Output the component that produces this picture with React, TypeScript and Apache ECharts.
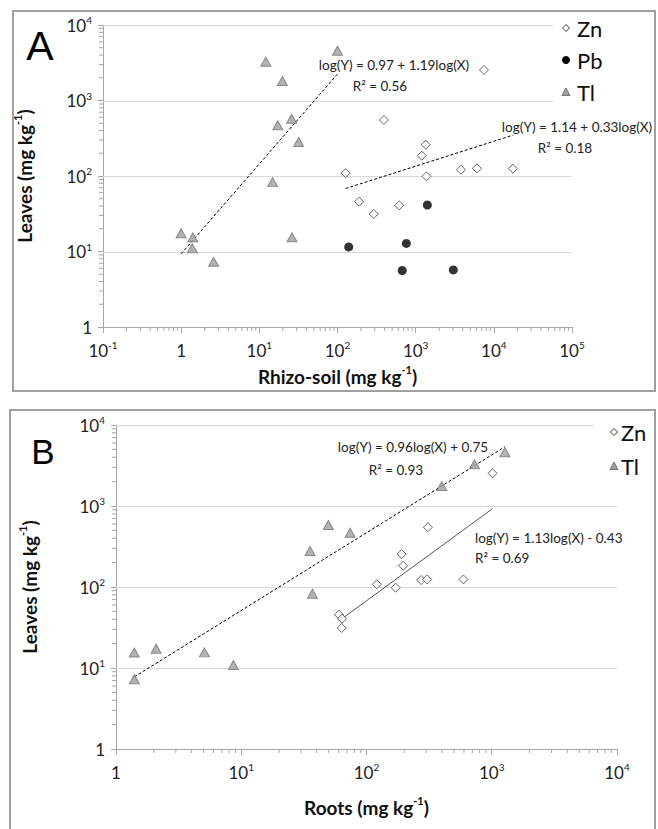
import React, { useEffect, useRef } from 'react';
import * as echarts from 'echarts';

// ---------- Panel A: rhizo-soil vs leaves (mg/kg) ----------
const aZnSoil = [127, 189, 291, 392, 617, 1197, 1346, 1374, 3800, 6080, 7480, 17550];
const aZnLeaves = [109, 45.7, 31.4, 552, 40.9, 186, 260, 99, 121, 126, 2535, 125];
const aPbSoil = [139, 673, 760, 1410, 3030];
const aPbLeaves = [11.5, 5.6, 12.8, 41.3, 5.7];
const aTlSoil = [1.0, 1.39, 1.41, 2.6, 12.1, 14.8, 17.2, 19.7, 25.9, 26.2, 31.8, 100];
const aTlLeaves = [17.4, 11.0, 15.4, 7.3, 3270, 83, 469, 1810, 574, 15.4, 282, 4570];

// ---------- Panel B: roots vs leaves (mg/kg) ----------
const bZnRoots = [60.3, 63.4, 63.8, 121, 171, 191, 196, 273, 305, 309, 594, 1014];
const bZnLeaves = [45.5, 31.2, 40.6, 108, 98, 255, 183, 122, 124, 546, 124, 2535];
const bTlRoots = [1.4, 1.4, 2.09, 5.08, 8.65, 35.4, 37.0, 49.6, 74, 399, 728, 1273];
const bTlLeaves = [15.5, 7.25, 17.3, 15.6, 10.9, 278, 82.6, 582, 468, 1766, 3274, 4600];

// printed regressions: log(Y) = intercept + slope * log(X)
const aTlFit = [0.97, 1.19];
const aZnFit = [1.14, 0.33];
const bTlFit = [0.75, 0.96];
const bZnFit = [-0.43, 1.13];

const aTlEq = ['log(Y) = 0.97 + 1.19log(X)', 'R² = 0.56'];
const aZnEq = ['log(Y) = 1.14 + 0.33log(X)', 'R² = 0.18'];
const bTlEq = ['log(Y) = 0.96log(X) + 0.75', 'R² = 0.93'];
const bZnEq = ['log(Y) = 1.13log(X) - 0.43', 'R² = 0.69'];

// axis ranges (decade exponents)
const aXExp = [-1, 5];
const aYExp = [0, 4];
const bXExp = [0, 4];
const bYExp = [0, 4];

const legendA = ['Zn', 'Pb', 'Tl'];
const legendB = ['Zn', 'Tl'];

const FONT = 'Lato, "Open Sans", sans-serif';
const AXIS_COLOR = '#a6a6a6';
const GRID_COLOR = '#d9d9d9';

// legend boxes [x, y, w, h] (layout)
const LEGEND_BOX_A = [553, 13, 100, 94];
const LEGEND_BOX_B = [594, 416, 60, 64];

const pairs = (xs: number[], ys: number[]) => xs.map((x, i) => [x, ys[i]]);

const fitLine = (xs: number[], fit: number[]) => {
  const lo = Math.min(...xs);
  const hi = Math.max(...xs);
  return [lo, hi].map((x) => [x, Math.pow(10, fit[0] + fit[1] * Math.log10(x))]);
};

const minorTicks = (exp: number[]) => {
  const out: number[] = [];
  for (let k = exp[0]; k < exp[1]; k++) {
    for (let m = 2; m <= 9; m++) out.push(m * Math.pow(10, k));
  }
  return out;
};

const decades = (exp: number[]) => {
  const out: number[] = [];
  for (let k = exp[0]; k <= exp[1]; k++) out.push(Math.pow(10, k));
  return out;
};

const supLabel = (v: number) => {
  const e = Math.round(Math.log10(v));
  return e === 0 ? '1' : '10{s|' + e + '}';
};

const labelStyle = (margin: number) => ({
  formatter: supLabel,
  fontFamily: FONT,
  fontSize: 17,
  lineHeight: 20,
  color: '#222',
  margin,
  rich: {
    s: { fontFamily: FONT, fontSize: 10, color: '#222', verticalAlign: 'top', lineHeight: 10 },
  },
});

const nameStyle = {
  fontFamily: FONT,
  fontSize: 19,
  fontWeight: 'bold',
  color: '#111',
  lineHeight: 24,
  rich: {
    s: { fontFamily: FONT, fontSize: 11, fontWeight: 'bold', color: '#111', verticalAlign: 'top', lineHeight: 11 },
  },
};

const makeAxis = (gridIndex: number, exp: number[], isX: boolean, name: string, nameGap: number) => ({
  type: 'log',
  logBase: 10,
  gridIndex,
  min: Math.pow(10, exp[0]),
  max: Math.pow(10, exp[1]),
  name,
  nameLocation: 'middle',
  nameGap,
  nameTextStyle: nameStyle,
  axisLine: { show: true, lineStyle: { color: AXIS_COLOR, width: 1 } },
  axisTick: { show: true, length: isX ? 6 : 5, lineStyle: { color: AXIS_COLOR } },
  minorTick: { show: false },
  splitLine: { show: false },
  axisLabel: labelStyle(isX ? 13 : 11),
});

const tickSeries = (gridIndex: number, values: number[], isX: boolean, anchor: number) => ({
  type: 'custom',
  name: '_ticks' + gridIndex + (isX ? 'x' : 'y'),
  xAxisIndex: gridIndex,
  yAxisIndex: gridIndex,
  silent: true,
  clip: false,
  z: 3,
  data: values.map((v) => (isX ? [v, anchor] : [anchor, v])),
  renderItem: (_p: any, api: any) => {
    const p = api.coord([api.value(0), api.value(1)]);
    const shape = isX
      ? { x1: p[0], y1: p[1], x2: p[0], y2: p[1] + 4 }
      : { x1: p[0] - 4, y1: p[1], x2: p[0], y2: p[1] };
    return { type: 'line', shape, style: { stroke: AXIS_COLOR, lineWidth: 1 } };
  },
});

// horizontal grid lines at each decade, stopped at the legend box where it overlaps
const gridLineSeries = (gridIndex: number, xExp: number[], yExp: number[], box: number[]) => ({
  type: 'custom',
  name: '_grid' + gridIndex,
  xAxisIndex: gridIndex,
  yAxisIndex: gridIndex,
  silent: true,
  clip: false,
  z: 1,
  data: decades(yExp).slice(1).map((v) => [Math.pow(10, xExp[0]), v, Math.pow(10, xExp[1])]),
  renderItem: (_p: any, api: any) => {
    const p0 = api.coord([api.value(0), api.value(1)]);
    const p1 = api.coord([api.value(2), api.value(1)]);
    const inBox = p0[1] >= box[1] && p0[1] <= box[1] + box[3];
    const xEnd = inBox ? Math.min(p1[0], box[0]) : p1[0];
    const y = Math.round(p0[1]) + 0.5;
    return {
      type: 'line',
      shape: { x1: p0[0], y1: y, x2: xEnd, y2: y },
      style: { stroke: GRID_COLOR, lineWidth: 1 },
    };
  },
});

const znStyle = { color: '#ffffff', borderColor: '#3c3c3c', borderWidth: 1 };
const tlStyle = { color: '#a0a0a0', borderColor: '#747474', borderWidth: 1 };
const pbStyle = { color: '#000000', borderColor: '#000000', borderWidth: 0 };

const symbolOf: Record<string, string> = { Zn: 'diamond', Pb: 'circle', Tl: 'triangle' };
const styleOf: Record<string, any> = { Zn: znStyle, Pb: pbStyle, Tl: tlStyle };

const scatter = (name: string, gi: number, data: number[][], size: any) => ({
  type: 'scatter',
  name,
  xAxisIndex: gi,
  yAxisIndex: gi,
  data,
  symbol: symbolOf[name],
  symbolSize: size,
  itemStyle: styleOf[name],
  z: 5,
});

const trend = (name: string, gi: number, data: number[][], dashed: boolean, color: string) => ({
  type: 'line',
  name,
  xAxisIndex: gi,
  yAxisIndex: gi,
  data,
  showSymbol: false,
  symbol: 'none',
  silent: true,
  z: 4,
  lineStyle: { color, width: 1, type: dashed ? [3, 2] : 'solid' },
});

const eqText = (lines: string[], x: number, y1: number, y2: number, align: string, x2?: number) => [
  {
    type: 'text',
    x,
    y: y1,
    silent: true,
    style: { text: lines[0], fontFamily: FONT, fontSize: 13.5, fill: '#222', align, verticalAlign: 'middle' },
  },
  {
    type: 'text',
    x: x2 != null ? x2 : x,
    y: y2,
    silent: true,
    style: { text: lines[1], fontFamily: FONT, fontSize: 13.5, fill: '#222', align, verticalAlign: 'middle' },
  },
];

// legend drawn as graphic: marker and label for each entry
const legendMarker = (name: string, cx: number, cy: number) => {
  const st = styleOf[name];
  const style = { fill: st.color, stroke: st.borderWidth ? st.borderColor : 'none', lineWidth: st.borderWidth };
  if (name === 'Pb') return { type: 'circle', silent: true, z: 6, shape: { cx, cy, r: 4 }, style };
  if (name === 'Zn')
    return {
      type: 'polygon', silent: true, z: 6,
      shape: { points: [[cx, cy - 3.5], [cx + 3.5, cy], [cx, cy + 3.5], [cx - 3.5, cy]] },
      style,
    };
  return {
    type: 'polygon', silent: true, z: 6,
    shape: { points: [[cx, cy - 4], [cx + 4, cy + 3.5], [cx - 4, cy + 3.5]] },
    style,
  };
};

const legendGraphic = (names: string[], markerX: number, textX: number, y0: number, step: number) =>
  names.flatMap((n, i) => [
    legendMarker(n, markerX, y0 + i * step),
    {
      type: 'text', silent: true, z: 6, x: textX, y: y0 + i * step,
      style: { text: n, fontFamily: FONT, fontSize: 22, fill: '#111', align: 'left', verticalAlign: 'middle' },
    },
  ]);

export default function App() {
  const ref = useRef<HTMLDivElement>(null);

  useEffect(() => {
    if (!ref.current) return;
    const chart = echarts.init(ref.current, undefined, { renderer: 'svg' });

    chart.setOption({
      animation: false,
      grid: [
        { left: 103, top: 25, width: 469, height: 302 },
        { left: 116, top: 425, width: 501, height: 324 },
      ],
      xAxis: [
        makeAxis(0, aXExp, true, 'Rhizo-soil (mg kg{s|-1})', 37),
        makeAxis(1, bXExp, true, 'Roots (mg kg{s|-1})', 46),
      ],
      yAxis: [
        makeAxis(0, aYExp, false, 'Leaves (mg kg{s|-1})', 67),
        makeAxis(1, bYExp, false, 'Leaves (mg kg{s|-1})', 75),
      ],
      series: [
        gridLineSeries(0, aXExp, aYExp, LEGEND_BOX_A),
        gridLineSeries(1, bXExp, bYExp, LEGEND_BOX_B),
        tickSeries(0, minorTicks(aXExp), true, Math.pow(10, aYExp[0])),
        tickSeries(0, minorTicks(aYExp), false, Math.pow(10, aXExp[0])),
        tickSeries(1, minorTicks(bXExp), true, Math.pow(10, bYExp[0])),
        tickSeries(1, minorTicks(bYExp), false, Math.pow(10, bXExp[0])),
        trend('fitATl', 0, fitLine(aTlSoil, aTlFit), true, '#000'),
        trend('fitAZn', 0, fitLine(aZnSoil, aZnFit), true, '#000'),
        trend('fitBTl', 1, fitLine(bTlRoots, bTlFit), true, '#000'),
        trend('fitBZn', 1, fitLine(bZnRoots, bZnFit), false, '#555'),
        scatter('Zn', 0, pairs(aZnSoil, aZnLeaves), 9),
        scatter('Pb', 0, pairs(aPbSoil, aPbLeaves), 9),
        scatter('Tl', 0, pairs(aTlSoil, aTlLeaves), [10, 9]),
        scatter('Zn', 1, pairs(bZnRoots, bZnLeaves), 9),
        scatter('Tl', 1, pairs(bTlRoots, bTlLeaves), [10, 9]),
      ],
      graphic: [
        ...legendGraphic(legendA, 566, 577, 28, 32),
        ...legendGraphic(legendB, 614, 621, 432, 34),
        {
          type: 'rect',
          silent: true,
          shape: { x: 13, y: 11, width: 642, height: 380 },
          style: { fill: 'none', stroke: '#a0a0a0', lineWidth: 2 },
          z: 10,
        },
        {
          type: 'rect',
          silent: true,
          shape: { x: 10, y: 410, width: 645, height: 440 },
          style: { fill: 'none', stroke: '#a0a0a0', lineWidth: 2 },
          z: 10,
        },
        {
          type: 'text',
          x: 40,
          y: 46,
          silent: true,
          style: { text: 'A', fontFamily: '"Liberation Sans", Arial, sans-serif', fontSize: 41, fill: '#000', align: 'center', verticalAlign: 'middle' },
        },
        {
          type: 'text',
          x: 43,
          y: 451,
          silent: true,
          style: { text: 'B', fontFamily: '"Liberation Sans", Arial, sans-serif', fontSize: 35, fill: '#000', align: 'center', verticalAlign: 'middle' },
        },
        ...eqText(aTlEq, 394, 65, 86, 'center', 380),
        ...eqText(aZnEq, 577, 127, 148, 'center', 565),
        ...eqText(bTlEq, 413, 447, 470, 'center', 396),
        ...eqText(bZnEq, 475, 538, 558, 'left'),
      ],
    });

    return () => chart.dispose();
  }, []);

  return (
    <div
      ref={ref}
      style={{ position: 'fixed', left: 0, top: 0, width: 658, height: 829, background: '#fff' }}
    />
  );
}
